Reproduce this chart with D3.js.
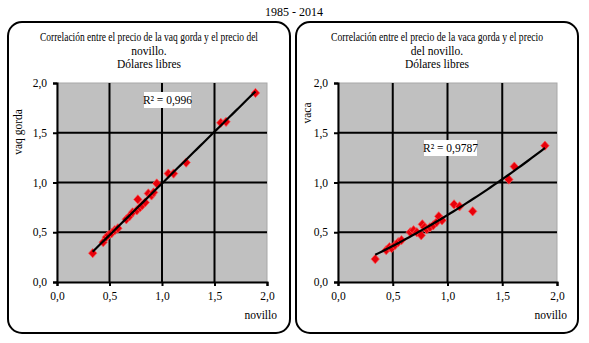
<!DOCTYPE html>
<html><head><meta charset="utf-8">
<script src="https://cdn.jsdelivr.net/npm/d3@7/dist/d3.min.js"></script>
<style>body{margin:0;background:#fff;}svg{display:block;font-family:"Liberation Serif","Times New Roman",serif;}</style>
</head><body><svg id="c" width="589" height="343"></svg>
<script>
const novillo  = [0.34,0.44,0.47,0.49,0.52,0.55,0.58,0.66,0.69,0.72,0.76,0.77,0.79,0.81,0.84,0.87,0.90,0.92,0.95,1.06,1.11,1.23,1.56,1.61,1.89];
const vaqGorda = [0.29,0.40,0.45,0.47,0.49,0.52,0.54,0.63,0.66,0.70,0.72,0.83,0.75,0.77,0.80,0.89,0.87,0.90,0.99,1.09,1.09,1.20,1.60,1.61,1.90];
const vaca     = [0.23,0.32,0.35,0.34,0.37,0.40,0.42,0.50,0.52,0.50,0.47,0.58,0.55,0.53,0.55,0.57,0.60,0.66,0.62,0.78,0.76,0.71,1.03,1.16,1.37];
const ticks = [0, 0.5, 1.0, 1.5, 2.0];
const tickLabels = ["0,0","0,5","1,0","1,5","2,0"];
const mainTitle = "1985 - 2014";
const titlesLeft = ["Correlación entre el precio de la vaq gorda y el precio del","novillo.","Dólares libres"];
const titlesRight = ["Correlación entre el precio de la vaca gorda y el precio","del novillo.","Dólares libres"];
const r2Left = "R² = 0,996", r2Right = "R² = 0,9787";

const svg = d3.select("#c");
svg.append("text").attr("x",294).attr("y",16).attr("text-anchor","middle").attr("font-size",12).text(mainTitle);

function polyfit(xs, ys, deg){
  const n = deg+1;
  const A = Array.from({length:n},()=>new Array(n+1).fill(0));
  for(let k=0;k<xs.length;k++){
    for(let i=0;i<n;i++){
      for(let j=0;j<n;j++) A[i][j]+=Math.pow(xs[k],i+j);
      A[i][n]+=ys[k]*Math.pow(xs[k],i);
    }
  }
  for(let i=0;i<n;i++){
    let p=i; for(let r=i+1;r<n;r++) if(Math.abs(A[r][i])>Math.abs(A[p][i])) p=r;
    [A[i],A[p]]=[A[p],A[i]];
    for(let r=0;r<n;r++){ if(r===i) continue; const f=A[r][i]/A[i][i]; for(let c=i;c<=n;c++) A[r][c]-=f*A[i][c]; }
  }
  return A.map((row,i)=>row[n]/row[i]);
}

function panel(cfg){
  const g = svg.append("g");
  g.append("rect").attr("x",cfg.bx).attr("y",22).attr("width",cfg.bw).attr("height",311)
   .attr("rx",14).attr("ry",14).attr("fill","#fff").attr("stroke","#000").attr("stroke-width",2);
  cfg.titles.forEach((t,i)=>{
    g.append("text").attr("x",cfg.tx).attr("y",41+i*13.5).attr("text-anchor","middle")
     .attr("font-size",11.5).attr("textLength", i===0?cfg.tw:null).attr("lengthAdjust","spacingAndGlyphs").text(t);
  });
  const x = d3.scaleLinear().domain([0,2]).range([cfg.x0,cfg.x1]);
  const y = d3.scaleLinear().domain([0,2]).range([282,83]);
  g.append("rect").attr("x",x(0)).attr("y",y(2)).attr("width",x(2)-x(0)).attr("height",y(0)-y(2)).attr("fill","#c0c0c0").attr("stroke","#a8a8a8").attr("stroke-width",1);
  g.selectAll(".gx").data(ticks.slice(1,4)).join("line").attr("x1",d=>x(d)).attr("x2",d=>x(d)).attr("y1",y(0)).attr("y2",y(2)).attr("stroke","#000").attr("stroke-width",2);
  g.selectAll(".gy").data(ticks.slice(1,4)).join("line").attr("y1",d=>y(d)).attr("y2",d=>y(d)).attr("x1",x(0)).attr("x2",x(2)).attr("stroke","#000").attr("stroke-width",2);
  const xa = d3.axisBottom(x).tickValues(ticks).tickFormat((d,i)=>tickLabels[i]).tickSize(4).tickPadding(4);
  const ya = d3.axisLeft(y).tickValues(ticks).tickFormat((d,i)=>tickLabels[i]).tickSize(4).tickPadding(4);
  const gx = g.append("g").attr("transform",`translate(0,${y(0)})`).call(xa);
  const gy = g.append("g").attr("transform",`translate(${x(0)},0)`).call(ya);
  [gx,gy].forEach(a=>{
    a.attr("font-family","Liberation Serif, serif");
    a.select(".domain").attr("stroke","#000").attr("stroke-width",2);
    a.selectAll(".tick line").attr("stroke","#000").attr("stroke-width",2);
    a.selectAll("text").attr("font-family","Liberation Serif, serif").attr("font-size",11.5).attr("fill","#000");
  });
  gx.selectAll("text").attr("dy","0.9em");
  gy.selectAll("text").attr("dx","-2");
  g.append("text").attr("x",cfg.x1+10).attr("y",319).attr("text-anchor","end").attr("font-size",11.5).text("novillo");
  g.append("text").attr("transform",`translate(${cfg.ylx},${cfg.yly}) rotate(-90)`).attr("text-anchor","middle").attr("font-size",11.5).text(cfg.ylabel);
  const pts = novillo.map((v,i)=>[v,cfg.ys[i]]);
  g.selectAll(".pt").data(pts).join("path").attr("d",d3.symbol(d3.symbolDiamond2,55)())
   .attr("transform",d=>`translate(${x(d[0])},${y(d[1])}) scale(0.9,1)`).attr("fill","#e8000a").attr("stroke","#ff5050").attr("stroke-width",0.8);
  const coef = polyfit(novillo,cfg.ys,cfg.deg);
  const xmin = d3.min(novillo), xmax = d3.max(novillo);
  const tr = d3.range(0,51).map(i=>{const xv = xmin+(xmax-xmin)*i/50; return [xv, coef.reduce((s,c,k)=>s+c*Math.pow(xv,k),0)];});
  g.append("path").attr("d",d3.line().x(d=>x(d[0])).y(d=>y(d[1]))(tr)).attr("fill","none").attr("stroke","#000").attr("stroke-width",2.2);
  g.append("rect").attr("x",cfg.r2x).attr("y",cfg.r2y).attr("width",cfg.r2w).attr("height",16).attr("fill","#fff");
  g.append("text").attr("x",cfg.r2x+cfg.r2w/2).attr("y",cfg.r2y+12).attr("text-anchor","middle").attr("font-size",11.5).text(cfg.r2);
}

panel({bx:8,bw:282,tx:149,tw:218,titles:titlesLeft,x0:57,x1:267,ys:vaqGorda,deg:1,ylabel:"vaq gorda",ylx:22,yly:132,r2:r2Left,r2x:144,r2y:92,r2w:47});
panel({bx:296,bw:282,tx:437,tw:212,titles:titlesRight,x0:338,x1:557,ys:vaca,deg:2,ylabel:"vaca",ylx:311,yly:113,r2:r2Right,r2x:424,r2y:140,r2w:53});
</script></body></html>
